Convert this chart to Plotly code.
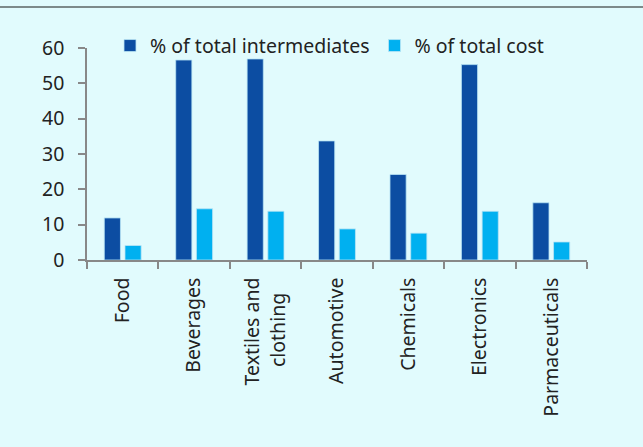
import plotly.graph_objects as go

categories = ["Food", "Beverages", "Textiles and<br>clothing\u00a0\u00a0\u00a0", "Automotive",
              "Chemicals", "Electronics", "Parmaceuticals"]
intermediates = [11.9, 56.6, 56.9, 33.7, 24.2, 55.3, 16.2]
total_cost = [4.1, 14.5, 13.8, 8.8, 7.6, 13.8, 5.1]
series_names = ["% of total intermediates", "% of total cost"]
y_ticks = [0, 10, 20, 30, 40, 50, 60]

bg = "#e1fbfd"
font = "Noto Sans, Open Sans, sans-serif"
fs = 19.5

fig = go.Figure()
fig.add_trace(go.Bar(x=categories, y=intermediates, name=series_names[0],
                     marker=dict(color="#0c4da2", line=dict(color="#b9e4f5", width=0.8))))
fig.add_trace(go.Bar(x=categories, y=total_cost, name=series_names[1],
                     marker=dict(color="#00b0f0", line=dict(color="#b9e4f5", width=0.8))))

line_y = (447 - 7 - 187) / 212

fig.update_layout(
    width=643, height=447,
    paper_bgcolor=bg, plot_bgcolor=bg,
    margin=dict(l=87, r=56, t=48, b=187),
    barmode="group", bargap=0.42, bargroupgap=0.22,
    font=dict(family=font, size=fs, color="#222222"),
    showlegend=True,
    legend=dict(orientation="h", x=0.046, xanchor="left", y=1.01, yanchor="middle",
                bgcolor="rgba(0,0,0,0)", font=dict(size=fs), itemwidth=30,
                tracegroupgap=0),
    shapes=[dict(type="line", xref="paper", yref="paper", x0=-0.2, x1=1.2,
                 y0=line_y, y1=line_y,
                 line=dict(color="#7d8a8a", width=2))],
)
fig.update_xaxes(showline=True, linecolor="#888888", linewidth=1.5,
                 ticks="outside", tickson="boundaries", ticklen=7, tickcolor="#888888",
                 tickwidth=1.5, tickangle=-90, showgrid=False, ticklabelstandoff=8,
                 tickfont=dict(size=fs, family=font, color="#222222"))
fig.update_yaxes(range=[0, 60], tickvals=y_ticks, showline=True, linecolor="#888888",
                 linewidth=1.5, ticks="outside", ticklen=7, tickcolor="#888888",
                 tickwidth=1.5, showgrid=False, zeroline=False, ticklabelstandoff=10,
                 tickfont=dict(size=fs, family=font, color="#222222"))

fig.write_html("out.html", config={"displayModeBar": False},
               post_script="document.body.style.margin='0';document.body.style.background='%s';" % bg)
